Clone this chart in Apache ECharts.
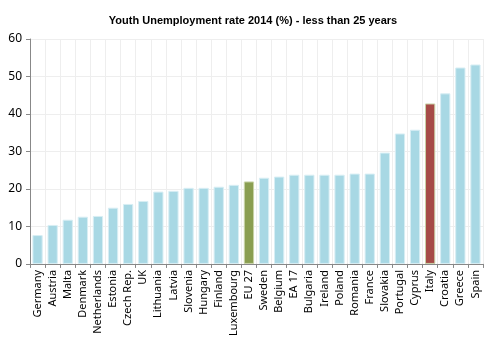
<!DOCTYPE html>
<html><head><meta charset="utf-8">
<script src="https://cdn.jsdelivr.net/npm/echarts@6/dist/echarts.min.js"></script>
<style>html,body{margin:0;padding:0;background:#fff}#c{width:496px;height:339px}</style>
</head><body><div id="c"></div>
<script>
const categories = ["Germany","Austria","Malta","Denmark","Netherlands","Estonia","Czech Rep.","UK","Lithuania","Latvia","Slovenia","Hungary","Finland","Luxembourg","EU 27","Sweden","Belgium","EA 17","Bulgaria","Ireland","Poland","Romania","France","Slovakia","Portugal","Cyprus","Italy","Croatia","Greece","Spain"];
const values = [7.7,10.4,11.8,12.6,12.8,15.0,16.0,16.8,19.3,19.5,20.3,20.3,20.6,21.1,22.0,23.0,23.3,23.8,23.8,23.8,23.8,24.1,24.1,29.7,34.8,35.8,42.8,45.5,52.4,53.2];
const yTicks = [0,10,20,30,40,50,60];
const highlight = {"EU 27":"#8A9E50","Italy":"#A64B47"};
const chart = echarts.init(document.getElementById('c'));
const font = "Noto Sans";
chart.setOption({
  animation:false,
  title:{text:"Youth Unemployment rate 2014 (%) - less than 25 years",left:248,top:10,textAlign:'center',
    textStyle:{fontFamily:"Liberation Sans",fontSize:11,fontWeight:'bold',color:'#000'}},
  grid:{left:30,right:13,top:39,bottom:75},
  xAxis:{type:'category',data:categories,
    axisLine:{lineStyle:{color:'#888'}},
    axisTick:{show:true,length:4,lineStyle:{color:'#888'}},
    splitLine:{show:true,lineStyle:{color:'#eeeeee'}},
    axisLabel:{rotate:90,interval:0,fontFamily:font,fontSize:11,color:'#000',margin:6}},
  yAxis:{type:'value',min:yTicks[0],max:yTicks[yTicks.length-1],interval:10,
    axisLine:{show:true,lineStyle:{color:'#888'}},
    axisTick:{show:true,length:4,lineStyle:{color:'#888'}},
    splitLine:{lineStyle:{color:'#eeeeee'}},
    axisLabel:{fontFamily:font,fontSize:12,color:'#000',margin:8}},
  series:[{type:'bar',barCategoryGap:'32%',
    data:values.map((v,i)=>({value:v,itemStyle:{color:highlight[categories[i]]||'#A8D8E4',
      borderColor:highlight[categories[i]]?'#c9d3a8':'#d8eef4',borderWidth:1}}))}]
});
</script></body></html>
